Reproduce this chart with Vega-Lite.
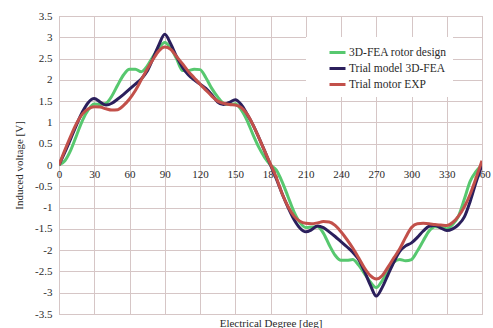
{
  "$schema": "https://vega.github.io/schema/vega-lite/v6.json",
  "width": 423,
  "height": 298,
  "autosize": {"type": "none"},
  "padding": {"left": 59, "top": 16, "right": 11, "bottom": 14},
  "background": "white",
  "config": {
    "font": "Liberation Serif",
    "view": {"stroke": "#c4b4b4", "strokeWidth": 1},
    "axis": {
      "gridColor": "#d6c6c6",
      "gridWidth": 1,
      "domain": false,
      "ticks": false,
      "labelFont": "Liberation Serif",
      "labelFontSize": 11,
      "labelColor": "#2a2a2a",
      "titleFont": "Liberation Serif",
      "titleFontSize": 11,
      "titleFontWeight": "normal",
      "titleColor": "#2a2a2a"
    },
    "legend": {
      "labelFont": "Liberation Serif"
    }
  },
  "data": {
    "values": [
      {"deg":0,"v":0,"s":"3D-FEA rotor design"},{"deg":5,"v":0.1,"s":"3D-FEA rotor design"},{"deg":10,"v":0.35,"s":"3D-FEA rotor design"},{"deg":15,"v":0.7,"s":"3D-FEA rotor design"},{"deg":20,"v":1.05,"s":"3D-FEA rotor design"},{"deg":25,"v":1.3,"s":"3D-FEA rotor design"},{"deg":30,"v":1.43,"s":"3D-FEA rotor design"},{"deg":35,"v":1.42,"s":"3D-FEA rotor design"},{"deg":40,"v":1.45,"s":"3D-FEA rotor design"},{"deg":45,"v":1.62,"s":"3D-FEA rotor design"},{"deg":50,"v":1.88,"s":"3D-FEA rotor design"},{"deg":55,"v":2.12,"s":"3D-FEA rotor design"},{"deg":60,"v":2.25,"s":"3D-FEA rotor design"},{"deg":65,"v":2.25,"s":"3D-FEA rotor design"},{"deg":70,"v":2.19,"s":"3D-FEA rotor design"},{"deg":75,"v":2.32,"s":"3D-FEA rotor design"},{"deg":80,"v":2.55,"s":"3D-FEA rotor design"},{"deg":85,"v":2.75,"s":"3D-FEA rotor design"},{"deg":90,"v":2.88,"s":"3D-FEA rotor design"},{"deg":95,"v":2.75,"s":"3D-FEA rotor design"},{"deg":100,"v":2.5,"s":"3D-FEA rotor design"},{"deg":105,"v":2.22,"s":"3D-FEA rotor design"},{"deg":110,"v":2.22,"s":"3D-FEA rotor design"},{"deg":115,"v":2.25,"s":"3D-FEA rotor design"},{"deg":120,"v":2.24,"s":"3D-FEA rotor design"},{"deg":125,"v":2.05,"s":"3D-FEA rotor design"},{"deg":130,"v":1.8,"s":"3D-FEA rotor design"},{"deg":135,"v":1.6,"s":"3D-FEA rotor design"},{"deg":140,"v":1.45,"s":"3D-FEA rotor design"},{"deg":145,"v":1.42,"s":"3D-FEA rotor design"},{"deg":150,"v":1.44,"s":"3D-FEA rotor design"},{"deg":155,"v":1.3,"s":"3D-FEA rotor design"},{"deg":160,"v":1.05,"s":"3D-FEA rotor design"},{"deg":165,"v":0.72,"s":"3D-FEA rotor design"},{"deg":170,"v":0.42,"s":"3D-FEA rotor design"},{"deg":175,"v":0.18,"s":"3D-FEA rotor design"},{"deg":180,"v":0,"s":"3D-FEA rotor design"},
      {"deg":185,"v":-0.12,"s":"3D-FEA rotor design"},{"deg":190,"v":-0.4,"s":"3D-FEA rotor design"},{"deg":195,"v":-0.75,"s":"3D-FEA rotor design"},{"deg":200,"v":-1.1,"s":"3D-FEA rotor design"},{"deg":205,"v":-1.35,"s":"3D-FEA rotor design"},{"deg":210,"v":-1.47,"s":"3D-FEA rotor design"},{"deg":215,"v":-1.46,"s":"3D-FEA rotor design"},{"deg":220,"v":-1.45,"s":"3D-FEA rotor design"},{"deg":225,"v":-1.6,"s":"3D-FEA rotor design"},{"deg":230,"v":-1.88,"s":"3D-FEA rotor design"},{"deg":235,"v":-2.12,"s":"3D-FEA rotor design"},{"deg":240,"v":-2.24,"s":"3D-FEA rotor design"},{"deg":245,"v":-2.24,"s":"3D-FEA rotor design"},{"deg":250,"v":-2.22,"s":"3D-FEA rotor design"},{"deg":255,"v":-2.35,"s":"3D-FEA rotor design"},{"deg":260,"v":-2.55,"s":"3D-FEA rotor design"},{"deg":265,"v":-2.75,"s":"3D-FEA rotor design"},{"deg":270,"v":-2.88,"s":"3D-FEA rotor design"},{"deg":275,"v":-2.72,"s":"3D-FEA rotor design"},{"deg":280,"v":-2.5,"s":"3D-FEA rotor design"},{"deg":285,"v":-2.28,"s":"3D-FEA rotor design"},{"deg":290,"v":-2.22,"s":"3D-FEA rotor design"},{"deg":295,"v":-2.25,"s":"3D-FEA rotor design"},{"deg":300,"v":-2.22,"s":"3D-FEA rotor design"},{"deg":305,"v":-2.02,"s":"3D-FEA rotor design"},{"deg":310,"v":-1.78,"s":"3D-FEA rotor design"},{"deg":315,"v":-1.55,"s":"3D-FEA rotor design"},{"deg":320,"v":-1.45,"s":"3D-FEA rotor design"},{"deg":325,"v":-1.46,"s":"3D-FEA rotor design"},{"deg":330,"v":-1.5,"s":"3D-FEA rotor design"},{"deg":335,"v":-1.4,"s":"3D-FEA rotor design"},{"deg":340,"v":-1.2,"s":"3D-FEA rotor design"},{"deg":345,"v":-0.8,"s":"3D-FEA rotor design"},{"deg":350,"v":-0.38,"s":"3D-FEA rotor design"},{"deg":355,"v":-0.15,"s":"3D-FEA rotor design"},{"deg":360,"v":0,"s":"3D-FEA rotor design"},

      {"deg":0,"v":0,"s":"Trial model 3D-FEA"},{"deg":5,"v":0.3,"s":"Trial model 3D-FEA"},{"deg":10,"v":0.62,"s":"Trial model 3D-FEA"},{"deg":15,"v":0.95,"s":"Trial model 3D-FEA"},{"deg":20,"v":1.25,"s":"Trial model 3D-FEA"},{"deg":25,"v":1.47,"s":"Trial model 3D-FEA"},{"deg":30,"v":1.56,"s":"Trial model 3D-FEA"},{"deg":35,"v":1.48,"s":"Trial model 3D-FEA"},{"deg":40,"v":1.41,"s":"Trial model 3D-FEA"},{"deg":45,"v":1.45,"s":"Trial model 3D-FEA"},{"deg":50,"v":1.55,"s":"Trial model 3D-FEA"},{"deg":55,"v":1.66,"s":"Trial model 3D-FEA"},{"deg":60,"v":1.78,"s":"Trial model 3D-FEA"},{"deg":65,"v":1.9,"s":"Trial model 3D-FEA"},{"deg":70,"v":2.02,"s":"Trial model 3D-FEA"},{"deg":75,"v":2.2,"s":"Trial model 3D-FEA"},{"deg":80,"v":2.5,"s":"Trial model 3D-FEA"},{"deg":85,"v":2.82,"s":"Trial model 3D-FEA"},{"deg":90,"v":3.07,"s":"Trial model 3D-FEA"},{"deg":95,"v":2.85,"s":"Trial model 3D-FEA"},{"deg":100,"v":2.55,"s":"Trial model 3D-FEA"},{"deg":105,"v":2.3,"s":"Trial model 3D-FEA"},{"deg":110,"v":2.12,"s":"Trial model 3D-FEA"},{"deg":115,"v":2.0,"s":"Trial model 3D-FEA"},{"deg":120,"v":1.9,"s":"Trial model 3D-FEA"},{"deg":125,"v":1.8,"s":"Trial model 3D-FEA"},{"deg":130,"v":1.65,"s":"Trial model 3D-FEA"},{"deg":135,"v":1.48,"s":"Trial model 3D-FEA"},{"deg":140,"v":1.42,"s":"Trial model 3D-FEA"},{"deg":145,"v":1.47,"s":"Trial model 3D-FEA"},{"deg":150,"v":1.53,"s":"Trial model 3D-FEA"},{"deg":155,"v":1.42,"s":"Trial model 3D-FEA"},{"deg":160,"v":1.2,"s":"Trial model 3D-FEA"},{"deg":165,"v":0.95,"s":"Trial model 3D-FEA"},{"deg":170,"v":0.65,"s":"Trial model 3D-FEA"},{"deg":175,"v":0.33,"s":"Trial model 3D-FEA"},{"deg":180,"v":0,"s":"Trial model 3D-FEA"},
      {"deg":185,"v":-0.33,"s":"Trial model 3D-FEA"},{"deg":190,"v":-0.68,"s":"Trial model 3D-FEA"},{"deg":195,"v":-1.0,"s":"Trial model 3D-FEA"},{"deg":200,"v":-1.28,"s":"Trial model 3D-FEA"},{"deg":205,"v":-1.48,"s":"Trial model 3D-FEA"},{"deg":210,"v":-1.57,"s":"Trial model 3D-FEA"},{"deg":215,"v":-1.52,"s":"Trial model 3D-FEA"},{"deg":220,"v":-1.43,"s":"Trial model 3D-FEA"},{"deg":225,"v":-1.47,"s":"Trial model 3D-FEA"},{"deg":230,"v":-1.57,"s":"Trial model 3D-FEA"},{"deg":235,"v":-1.68,"s":"Trial model 3D-FEA"},{"deg":240,"v":-1.8,"s":"Trial model 3D-FEA"},{"deg":245,"v":-1.92,"s":"Trial model 3D-FEA"},{"deg":250,"v":-2.05,"s":"Trial model 3D-FEA"},{"deg":255,"v":-2.22,"s":"Trial model 3D-FEA"},{"deg":260,"v":-2.5,"s":"Trial model 3D-FEA"},{"deg":265,"v":-2.82,"s":"Trial model 3D-FEA"},{"deg":270,"v":-3.08,"s":"Trial model 3D-FEA"},{"deg":275,"v":-2.88,"s":"Trial model 3D-FEA"},{"deg":280,"v":-2.58,"s":"Trial model 3D-FEA"},{"deg":285,"v":-2.28,"s":"Trial model 3D-FEA"},{"deg":290,"v":-2.03,"s":"Trial model 3D-FEA"},{"deg":295,"v":-1.9,"s":"Trial model 3D-FEA"},{"deg":300,"v":-1.83,"s":"Trial model 3D-FEA"},{"deg":305,"v":-1.7,"s":"Trial model 3D-FEA"},{"deg":310,"v":-1.55,"s":"Trial model 3D-FEA"},{"deg":315,"v":-1.44,"s":"Trial model 3D-FEA"},{"deg":320,"v":-1.42,"s":"Trial model 3D-FEA"},{"deg":325,"v":-1.48,"s":"Trial model 3D-FEA"},{"deg":330,"v":-1.54,"s":"Trial model 3D-FEA"},{"deg":335,"v":-1.5,"s":"Trial model 3D-FEA"},{"deg":340,"v":-1.4,"s":"Trial model 3D-FEA"},{"deg":345,"v":-1.22,"s":"Trial model 3D-FEA"},{"deg":350,"v":-0.85,"s":"Trial model 3D-FEA"},{"deg":355,"v":-0.4,"s":"Trial model 3D-FEA"},{"deg":360,"v":0,"s":"Trial model 3D-FEA"},

      {"deg":0,"v":0,"s":"Trial motor EXP"},{"deg":5,"v":0.35,"s":"Trial motor EXP"},{"deg":10,"v":0.68,"s":"Trial motor EXP"},{"deg":15,"v":0.98,"s":"Trial motor EXP"},{"deg":20,"v":1.2,"s":"Trial motor EXP"},{"deg":25,"v":1.32,"s":"Trial motor EXP"},{"deg":30,"v":1.37,"s":"Trial motor EXP"},{"deg":35,"v":1.36,"s":"Trial motor EXP"},{"deg":40,"v":1.32,"s":"Trial motor EXP"},{"deg":45,"v":1.29,"s":"Trial motor EXP"},{"deg":50,"v":1.3,"s":"Trial motor EXP"},{"deg":55,"v":1.4,"s":"Trial motor EXP"},{"deg":60,"v":1.55,"s":"Trial motor EXP"},{"deg":65,"v":1.75,"s":"Trial motor EXP"},{"deg":70,"v":2.0,"s":"Trial motor EXP"},{"deg":75,"v":2.25,"s":"Trial motor EXP"},{"deg":80,"v":2.48,"s":"Trial motor EXP"},{"deg":85,"v":2.68,"s":"Trial motor EXP"},{"deg":90,"v":2.77,"s":"Trial motor EXP"},{"deg":95,"v":2.72,"s":"Trial motor EXP"},{"deg":100,"v":2.55,"s":"Trial motor EXP"},{"deg":105,"v":2.38,"s":"Trial motor EXP"},{"deg":110,"v":2.2,"s":"Trial motor EXP"},{"deg":115,"v":2.05,"s":"Trial motor EXP"},{"deg":120,"v":1.9,"s":"Trial motor EXP"},{"deg":125,"v":1.76,"s":"Trial motor EXP"},{"deg":130,"v":1.62,"s":"Trial motor EXP"},{"deg":135,"v":1.5,"s":"Trial motor EXP"},{"deg":140,"v":1.45,"s":"Trial motor EXP"},{"deg":145,"v":1.42,"s":"Trial motor EXP"},{"deg":150,"v":1.41,"s":"Trial motor EXP"},{"deg":155,"v":1.35,"s":"Trial motor EXP"},{"deg":160,"v":1.2,"s":"Trial motor EXP"},{"deg":165,"v":0.95,"s":"Trial motor EXP"},{"deg":170,"v":0.65,"s":"Trial motor EXP"},{"deg":175,"v":0.33,"s":"Trial motor EXP"},{"deg":180,"v":0.02,"s":"Trial motor EXP"},
      {"deg":185,"v":-0.3,"s":"Trial motor EXP"},{"deg":190,"v":-0.68,"s":"Trial motor EXP"},{"deg":195,"v":-0.98,"s":"Trial motor EXP"},{"deg":200,"v":-1.2,"s":"Trial motor EXP"},{"deg":205,"v":-1.32,"s":"Trial motor EXP"},{"deg":210,"v":-1.37,"s":"Trial motor EXP"},{"deg":215,"v":-1.38,"s":"Trial motor EXP"},{"deg":220,"v":-1.36,"s":"Trial motor EXP"},{"deg":225,"v":-1.33,"s":"Trial motor EXP"},{"deg":230,"v":-1.34,"s":"Trial motor EXP"},{"deg":235,"v":-1.42,"s":"Trial motor EXP"},{"deg":240,"v":-1.57,"s":"Trial motor EXP"},{"deg":245,"v":-1.75,"s":"Trial motor EXP"},{"deg":250,"v":-1.95,"s":"Trial motor EXP"},{"deg":255,"v":-2.18,"s":"Trial motor EXP"},{"deg":260,"v":-2.42,"s":"Trial motor EXP"},{"deg":265,"v":-2.6,"s":"Trial motor EXP"},{"deg":270,"v":-2.68,"s":"Trial motor EXP"},{"deg":275,"v":-2.6,"s":"Trial motor EXP"},{"deg":280,"v":-2.4,"s":"Trial motor EXP"},{"deg":285,"v":-2.18,"s":"Trial motor EXP"},{"deg":290,"v":-1.97,"s":"Trial motor EXP"},{"deg":295,"v":-1.7,"s":"Trial motor EXP"},{"deg":300,"v":-1.47,"s":"Trial motor EXP"},{"deg":305,"v":-1.38,"s":"Trial motor EXP"},{"deg":310,"v":-1.37,"s":"Trial motor EXP"},{"deg":315,"v":-1.38,"s":"Trial motor EXP"},{"deg":320,"v":-1.4,"s":"Trial motor EXP"},{"deg":325,"v":-1.41,"s":"Trial motor EXP"},{"deg":330,"v":-1.42,"s":"Trial motor EXP"},{"deg":335,"v":-1.35,"s":"Trial motor EXP"},{"deg":340,"v":-1.2,"s":"Trial motor EXP"},{"deg":345,"v":-0.98,"s":"Trial motor EXP"},{"deg":350,"v":-0.68,"s":"Trial motor EXP"},{"deg":355,"v":-0.3,"s":"Trial motor EXP"},{"deg":360,"v":0.1,"s":"Trial motor EXP"}
    ]
  },
  "mark": {"type": "line", "strokeWidth": 3, "interpolate": "monotone", "clip": true},
  "encoding": {
    "x": {
      "field": "deg",
      "type": "quantitative",
      "scale": {"domain": [0, 360], "nice": false},
      "axis": {
        "values": [0, 30, 60, 90, 120, 150, 180, 210, 240, 270, 300, 330, 360],
        "offset": -149,
        "labelPadding": 3,
        "labelFlush": false,
        "labelOverlap": false,
        "title": "Electrical Degree [deg]",
        "titleY": 158,
        "titleBaseline": "middle"
      }
    },
    "y": {
      "field": "v",
      "type": "quantitative",
      "scale": {"domain": [-3.5, 3.5], "nice": false},
      "axis": {
        "values": [-3.5, -3, -2.5, -2, -1.5, -1, -0.5, 0, 0.5, 1, 1.5, 2, 2.5, 3, 3.5],
        "labelExpr": "'' + datum.value",
        "labelPadding": 7,
        "labelFlush": false,
        "labelOverlap": false,
        "title": "Induced voltage [V]",
        "titlePadding": 10
      }
    },
    "color": {
      "field": "s",
      "type": "nominal",
      "scale": {
        "domain": ["3D-FEA rotor design", "Trial model 3D-FEA", "Trial motor EXP"],
        "range": ["#57c86f", "#2b1f5c", "#c2504a"]
      },
      "legend": {
        "title": null,
        "orient": "none",
        "legendX": 247,
        "legendY": 21,
        "fillColor": "white",
        "padding": 6,
        "symbolType": "stroke",
        "symbolSize": 256,
        "symbolStrokeWidth": 3,
        "labelFont": "Liberation Serif",
        "labelFontSize": 11.5,
        "labelColor": "#2a2a2a",
        "labelOffset": 2,
        "rowPadding": 0,
        "symbolOffset": 16
      }
    }
  }
}
